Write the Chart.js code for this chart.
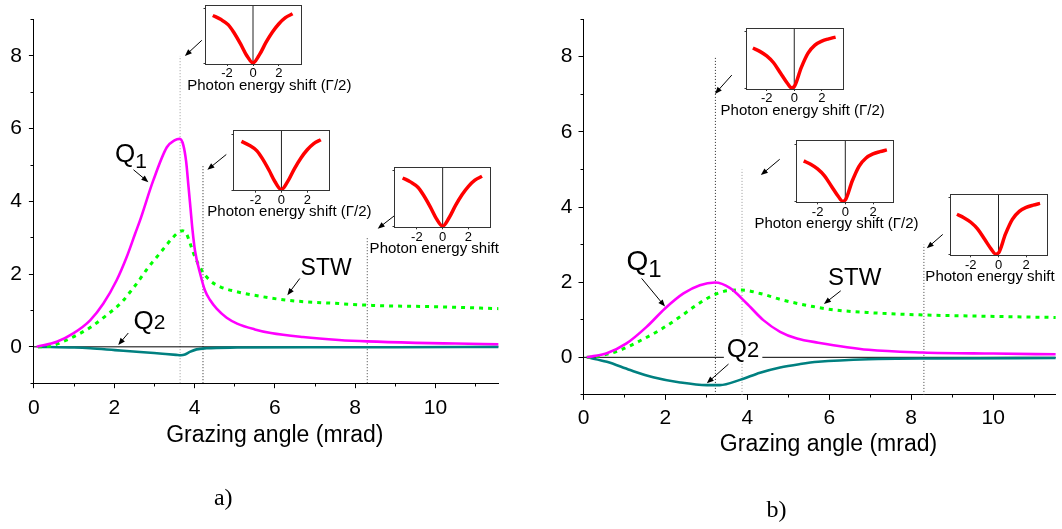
<!DOCTYPE html>
<html><head><meta charset="utf-8">
<script src="https://cdn.jsdelivr.net/npm/chart.js@4/dist/chart.umd.min.js"></script>
<style>
html,body{margin:0;padding:0;background:#fff;}
#wrap{position:relative;width:1062px;height:529px;overflow:hidden;background:#fff;}
canvas{position:absolute;}
</style></head><body><div id="wrap"></div>
<script>
// ---------------- data ----------------
const xTicks = [0, 2, 4, 6, 8, 10];
const xMinor = [1, 3, 5, 7, 9, 11];
const yTicks = [0, 2, 4, 6, 8];
const yMinor = [-1, 1, 3, 5, 7, 9];
const insetTicks = [-2, 0, 2];

// panel a)
const aQ1x = [0.07,0.57,0.98,1.40,1.73,2.06,2.31,2.52,2.64,2.97,3.31,3.50,3.63,3.72,3.79,3.85,3.90,3.95,4.01,4.14,4.26,4.39,4.55,4.80,5.06,5.50,5.90,6.70,7.59,8.30,9.50,10.50,11.57];
const aQ1y = [0,0.14,0.37,0.73,1.19,1.83,2.47,3.11,3.47,4.57,5.49,5.68,5.72,5.55,5.10,4.40,3.80,3.20,2.65,2.01,1.55,1.28,1.05,0.80,0.64,0.48,0.38,0.27,0.19,0.15,0.11,0.09,0.07];
const aSTWx = [0.10,0.40,0.90,1.15,1.40,1.81,2.19,2.39,2.60,2.85,3.06,3.26,3.43,3.60,3.70,3.80,3.89,4.01,4.18,4.38,4.64,5.00,5.48,6.32,7.59,8.43,10.12,11.57];
const aSTWy = [0,0.02,0.23,0.37,0.53,0.87,1.23,1.50,1.80,2.19,2.47,2.74,2.97,3.15,3.19,3.11,2.84,2.47,2.10,1.83,1.65,1.53,1.42,1.28,1.19,1.14,1.10,1.05];
const aQ2x = [0.10,1.00,1.40,2.02,2.64,3.20,3.54,3.66,3.76,3.88,4.05,4.30,5.06,7.00,9.00,11.57];
const aQ2y = [0,-0.02,-0.04,-0.09,-0.14,-0.19,-0.22,-0.23,-0.21,-0.14,-0.07,-0.04,-0.02,-0.01,-0.01,0];
const aMarkX = [3.64, 4.21, 8.30];
const aMarkTop = [8, 5, 3];

// panel b)
const bQ1x = [0.08,0.57,1.05,1.54,1.99,2.44,2.84,3.21,3.58,3.98,4.39,4.80,5.21,5.73,6.96,8.28,10.00,11.53];
const bQ1y = [0,0.11,0.37,0.81,1.30,1.70,1.92,1.99,1.84,1.44,0.99,0.68,0.50,0.39,0.20,0.13,0.10,0.08];
const bSTWx = [0.08,0.32,0.89,1.38,1.87,2.36,2.76,3.09,3.50,3.86,4.31,4.88,5.61,6.14,6.96,8.20,9.44,11.53];
const bSTWy = [0,0.02,0.19,0.44,0.73,1.08,1.39,1.61,1.77,1.79,1.70,1.52,1.35,1.26,1.19,1.13,1.10,1.06];
const bQ2x = [0.08,0.57,1.14,1.70,2.36,3.01,3.33,3.82,4.31,4.80,5.29,5.73,6.96,8.62,11.53];
const bQ2y = [0,-0.12,-0.34,-0.53,-0.67,-0.74,-0.74,-0.60,-0.41,-0.27,-0.18,-0.12,-0.05,-0.03,-0.02];
const bMarkX = [3.22, 3.87, 8.31];
const bMarkTop = [8, 5, 3];

// inset spectra (normalised intensity vs photon energy shift)
const insetAx = [-3.1,-2.5,-1.9,-1.5,-0.95,-0.5,0,0.5,1,1.5,2,2.5,3.05];
const insetAy = [0.87,0.80,0.70,0.57,0.35,0.15,0.01,0.16,0.38,0.57,0.72,0.83,0.90];
const insetBx = [-3,-2.5,-2,-1.5,-1,-0.5,-0.2,0,0.5,1,1.5,2,2.5,3];
const insetBy = [0.71,0.65,0.57,0.45,0.27,0.09,0.01,0.03,0.36,0.62,0.76,0.83,0.87,0.90];

// ---------------- helpers ----------------
Chart.defaults.font.family = "'Liberation Sans', Arial, sans-serif";
Chart.defaults.color = '#000';
const SANS = "'Liberation Sans', Arial, sans-serif";
const SERIF = "'Liberation Serif', 'Times New Roman', serif";
const wrap = document.getElementById('wrap');
function makeCanvas(l, t, w, h) {
  const c = document.createElement('canvas');
  c.width = w; c.height = h;
  c.style.left = l + 'px'; c.style.top = t + 'px';
  c.style.width = w + 'px'; c.style.height = h + 'px';
  wrap.appendChild(c);
  return c;
}
const pts = (xs, ys) => xs.map((x, i) => ({x: x, y: ys[i]}));
const al = p => Math.round(p - 0.5) + 0.5;

function drawArrow(ctx, x1, y1, x2, y2) {
  const a = Math.atan2(y2 - y1, x2 - x1), L = 7, W = 2.8;
  const c = Math.cos(a), s = Math.sin(a);
  ctx.beginPath(); ctx.moveTo(x1, y1); ctx.lineTo(x2 - c * L * 0.7, y2 - s * L * 0.7); ctx.stroke();
  ctx.beginPath(); ctx.moveTo(x2, y2);
  ctx.lineTo(x2 - L * c + W * s, y2 - L * s - W * c);
  ctx.lineTo(x2 - L * c - W * s, y2 - L * s + W * c);
  ctx.closePath(); ctx.fill();
}

function annotPlugin(cfg) {
  return {
    id: 'annot',
    afterDatasetsDraw(chart) {
      const ctx = chart.ctx, xs = chart.scales.x, ys = chart.scales.y;
      ctx.save();
      ctx.fillStyle = '#000'; ctx.strokeStyle = '#000'; ctx.lineWidth = 1;
      cfg.arrows.forEach(a => drawArrow(ctx, xs.getPixelForValue(a[0]), ys.getPixelForValue(a[1]),
                                         xs.getPixelForValue(a[2]), ys.getPixelForValue(a[3])));
      cfg.labels.forEach(l => {
        const px = xs.getPixelForValue(l.x), py = ys.getPixelForValue(l.y);
        ctx.textBaseline = 'alphabetic'; ctx.textAlign = 'left';
        ctx.font = l.size + 'px ' + SANS;
        const w1 = ctx.measureText(l.text).width;
        let w2 = 0;
        if (l.sub) { ctx.font = l.subSize + 'px ' + SANS; w2 = ctx.measureText(l.sub).width; }
        if (l.bg) {
          ctx.fillStyle = '#fff';
          ctx.fillRect(px - 3, py - l.size * 0.78, w1 + w2 + 6, l.size * 0.78 + 3);
          ctx.fillStyle = '#000';
        }
        ctx.font = l.size + 'px ' + SANS;
        ctx.fillText(l.text, px, py);
        if (l.sub) { ctx.font = l.subSize + 'px ' + SANS; ctx.fillText(l.sub, px + w1, py + l.subDy); }
      });
      ctx.restore();
    },
    afterDraw(chart) {
      const ctx = chart.ctx, xs = chart.scales.x, ys = chart.scales.y, a = chart.chartArea;
      ctx.save();
      ctx.strokeStyle = '#000'; ctx.lineWidth = 1; ctx.beginPath();
      xMinor.forEach(v => { if (v > xs.max) return; const p = al(xs.getPixelForValue(v)); ctx.moveTo(p, al(a.bottom)); ctx.lineTo(p, al(a.bottom) + 3); });
      yMinor.forEach(v => { const p = al(ys.getPixelForValue(v)); ctx.moveTo(al(a.left), p); ctx.lineTo(al(a.left) - 3, p); });
      ctx.stroke();
      ctx.fillStyle = '#000'; ctx.textAlign = 'center'; ctx.textBaseline = 'middle';
      ctx.font = '23px ' + SANS;
      ctx.fillText('Grazing angle (mrad)', cfg.titleX, cfg.titleY);
      ctx.font = '24px ' + SERIF;
      ctx.fillText(cfg.caption, cfg.capX, cfg.capY);
      ctx.restore();
    }
  };
}

function mainChart(cfg) {
  const c = makeCanvas(cfg.left, 0, cfg.width, 529);
  const ds = [];
  cfg.markX.forEach((mx, i) => ds.push({data: [{x: mx, y: -1}, {x: mx, y: cfg.markTop[i]}], borderColor: cfg.markColors[i], borderWidth: 1, borderDash: [1, 2], order: 10}));
  ds.push({data: [{x: 0, y: 0}, {x: cfg.xmax, y: 0}], borderColor: '#000', borderWidth: 1, order: 9});
  ds.push({data: pts(cfg.q2x, cfg.q2y), borderColor: '#008080', borderWidth: 2.6, cubicInterpolationMode: 'monotone', order: 3});
  ds.push({data: pts(cfg.stwx, cfg.stwy), borderColor: '#00ff00', borderWidth: 3, borderDash: [4, 5], cubicInterpolationMode: 'monotone', order: 2});
  ds.push({data: pts(cfg.q1x, cfg.q1y), borderColor: '#ff00ff', borderWidth: 2.6, cubicInterpolationMode: 'monotone', order: 1});
  return new Chart(c, {
    type: 'line',
    data: {datasets: ds},
    options: {
      responsive: false, animation: false, devicePixelRatio: 1,
      layout: {padding: {left: 0, top: cfg.padTop, right: cfg.padRight, bottom: 0}},
      plugins: {legend: {display: false}, tooltip: {enabled: false}},
      elements: {point: {radius: 0}, line: {borderCapStyle: 'butt'}},
      scales: {
        x: {type: 'linear', min: 0, max: cfg.xmax,
            afterBuildTicks: s => { s.ticks = xTicks.map(v => ({value: v})); },
            afterFit: s => { s.height = cfg.xAxisH; },
            ticks: {font: {size: 21}, color: '#000', padding: cfg.xPad, maxRotation: 0, autoSkip: false},
            grid: {drawOnChartArea: false, tickLength: 5, color: '#000'},
            border: {color: '#000', width: 1}},
        y: {type: 'linear', min: -1, max: 9,
            afterBuildTicks: s => { s.ticks = yTicks.map(v => ({value: v})); },
            afterFit: s => { s.width = cfg.yAxisW; },
            ticks: {font: {size: 21}, color: '#000', padding: cfg.yPad},
            grid: {drawOnChartArea: false, tickLength: 5, color: '#000'},
            border: {color: '#000', width: 1}}
      }
    },
    plugins: [annotPlugin(cfg)]
  });
}

function insetChart(box, xs, ys, xr) {
  const cl = Math.floor(box.x) - 80, ct = Math.floor(box.y) - 3;
  const padL = box.x - cl, padT = box.y - ct;
  const w = Math.ceil(padL + box.w + 80), h = Math.ceil(padT + box.h + 36);
  const c = makeCanvas(cl, ct, w, h);
  return new Chart(c, {
    type: 'line',
    data: {datasets: [
      {data: [{x: 0, y: 0}, {x: 0, y: 1.06}], borderColor: '#222', borderWidth: 1, order: 2},
      {data: pts(xs, ys), borderColor: '#ff0000', borderWidth: 3.5, cubicInterpolationMode: 'monotone', order: 1}
    ]},
    options: {
      responsive: false, animation: false, devicePixelRatio: 1,
      layout: {padding: {left: padL, top: padT, right: w - padL - box.w, bottom: 0}},
      plugins: {legend: {display: false}, tooltip: {enabled: false}},
      elements: {point: {radius: 0}},
      scales: {
        x: {type: 'linear', min: -xr, max: xr,
            afterBuildTicks: s => { s.ticks = insetTicks.map(v => ({value: v})); },
            afterFit: s => { s.height = h - padT - box.h; },
            ticks: {font: {size: 13}, color: '#000', padding: 0, maxRotation: 0, autoSkip: false},
            grid: {drawOnChartArea: false, tickLength: 2, color: '#333'},
            border: {color: '#333', width: 1}},
        y: {type: 'linear', min: -0.01, max: 1.06, display: false}
      }
    },
    plugins: [{
      id: 'insetbox',
      beforeDraw(chart) {
        const a = chart.chartArea, ctx = chart.ctx;
        ctx.save(); ctx.fillStyle = '#fff'; ctx.fillRect(a.left, a.top, a.right - a.left, a.bottom - a.top); ctx.restore();
      },
      afterDraw(chart) {
        const a = chart.chartArea, ctx = chart.ctx;
        ctx.save();
        ctx.strokeStyle = '#333'; ctx.lineWidth = 1;
        ctx.strokeRect(al(a.left), al(a.top), Math.round(a.right - a.left), Math.round(a.bottom - a.top));
        ctx.beginPath();
        [0, 1].forEach(v => { const p = al(chart.scales.y.getPixelForValue(v)); ctx.moveTo(al(a.left), p); ctx.lineTo(al(a.left) - 2, p); });
        ctx.stroke();
        ctx.fillStyle = '#000'; ctx.font = '15px ' + SANS; ctx.textAlign = 'center'; ctx.textBaseline = 'middle';
        ctx.fillText(box.title, (a.left + a.right) / 2 + box.dx, a.bottom + 21.5);
        ctx.restore();
      }
    }]
  });
}

// ---------------- panel a ----------------
mainChart({
  left: 0, width: 530, xmax: 11.57, padTop: 18.6, padRight: 31.4, yAxisW: 33.9, xAxisH: 145.8,
  xPad: 7, yPad: 7,
  q1x: aQ1x, q1y: aQ1y, stwx: aSTWx, stwy: aSTWy, q2x: aQ2x, q2y: aQ2y,
  markX: aMarkX, markTop: aMarkTop, markColors: ['#999', '#222', '#444'],
  titleX: 274.8, titleY: 435.3, caption: 'a)', capX: 223.2, capY: 499,
  labels: [
    {x: 2.02, y: 5.07, text: 'Q', size: 26, sub: '1', subSize: 21, subDy: 6},
    {x: 2.48, y: 0.48, text: 'Q', size: 26, sub: '2', subSize: 21, subDy: 0},
    {x: 6.64, y: 1.97, text: 'STW', size: 23}
  ],
  arrows: [
    [2.48, 4.87, 2.85, 4.53],
    [2.35, 0.38, 2.10, 0.05],
    [6.62, 1.88, 6.31, 1.42],
    [4.18, 8.43, 3.76, 8.00],
    [4.79, 5.29, 4.32, 4.87],
    [8.98, 3.61, 8.56, 3.25]
  ]
});

// ---------------- panel b ----------------
mainChart({
  left: 530, width: 532, xmax: 11.53, padTop: 19.1, padRight: 6.2, yAxisW: 53.5, xAxisH: 134.1,
  xPad: 6, yPad: 6,
  q1x: bQ1x, q1y: bQ1y, stwx: bSTWx, stwy: bSTWy, q2x: bQ2x, q2y: bQ2y,
  markX: bMarkX, markTop: bMarkTop, markColors: ['#222', '#999', '#444'],
  titleX: 298.5, titleY: 444.7, caption: 'b)', capX: 246.4, capY: 510.5,
  labels: [
    {x: 1.05, y: 2.32, text: 'Q', size: 28, sub: '1', subSize: 24, subDy: 7},
    {x: 3.50, y: 0.0, text: 'Q', size: 26, sub: '2', subSize: 22, subDy: 0, bg: true},
    {x: 5.97, y: 1.92, text: 'STW', size: 24}
  ],
  arrows: [
    [1.42, 2.10, 1.99, 1.35],
    [3.54, -0.18, 3.01, -0.69],
    [6.28, 1.77, 5.87, 1.42],
    [3.62, 7.51, 3.21, 7.01],
    [4.79, 5.27, 4.33, 4.85],
    [8.77, 3.27, 8.38, 2.90]
  ]
});

// ---------------- insets ----------------
const T1 = 'Photon energy shift (\u0393/2)', T2 = 'Photon energy shift';
[
  {x: 205, y: 5, w: 96, h: 59, dx: 16.3, title: T1},
  {x: 233.7, y: 130.7, w: 95.5, h: 60, dx: 8, title: T1},
  {x: 394.9, y: 167.3, w: 95.5, h: 60, dx: -8.4, title: T2}
].forEach(b => insetChart(b, insetAx, insetAy, 3.7));
[
  {x: 746, y: 28, w: 96.5, h: 61, dx: 8.4, title: T1},
  {x: 796.8, y: 140.7, w: 97, h: 61.6, dx: -8.8, title: T1},
  {x: 950, y: 194.3, w: 97, h: 61, dx: -8.5, title: T2}
].forEach(b => insetChart(b, insetBx, insetBy, 3.5));
</script>
</body></html>
